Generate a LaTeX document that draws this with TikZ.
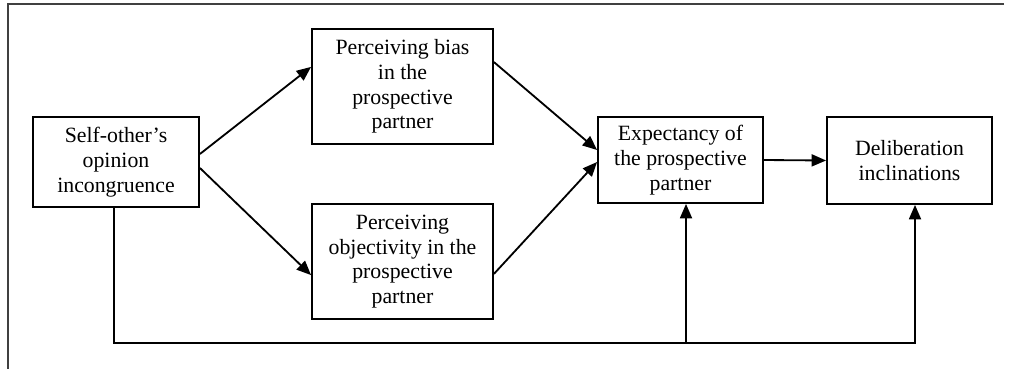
\documentclass[tikz,border=0pt]{standalone}
\usepackage{fontspec}
\setmainfont{Liberation Serif}
\usetikzlibrary{arrows.meta}
\begin{document}
\begin{tikzpicture}[x=.025cm,y=-.025cm,line width=1.3pt,
  box/.style={draw,inner sep=0pt,align=center,font=\fontsize{15.5}{17.6}\selectfont},
  arr/.style={-{Triangle[length=.36cm,width=.3cm]}},
  frame/.style={draw=black!75,line width=1pt}]
\useasboundingbox (0,0) rectangle (1010,369);
\draw[frame] (1004,4) -- (8,4) -- (8,369);
% boxes
\node[box,minimum width=4.15cm,minimum height=2.25cm] (self) at (116,162) {Self-other's\\opinion\\incongruence};
\node[box,minimum width=4.525cm,minimum height=2.875cm] (bias) at (402.5,86.5) {Perceiving bias\\in the\\prospective\\partner};
\node[box,minimum width=4.525cm,minimum height=2.875cm] (objy) at (402.5,261.5) {Perceiving\\objectivity in the\\prospective\\partner};
\node[box,minimum width=4.125cm,minimum height=2.15cm] (expy) at (680.5,160) {Expectancy of\\the prospective\\partner};
\node[box,minimum width=4.125cm,minimum height=2.175cm] (delib) at (909.5,160.5) {Deliberation\\inclinations};
% paths
\draw[arr] ([yshift=.2cm]self.east) -- ([yshift=.49cm]bias.west);
\draw[arr] ([yshift=-.15cm]self.east) -- ([yshift=-.34cm]objy.west);
\draw[arr] ([yshift=.61cm]bias.east) -- ([yshift=.25cm]expy.west);
\draw[arr] ([yshift=-.31cm]objy.east) -- ([yshift=-.05cm]expy.west);
\draw[arr] (expy.east) -- (delib.west);
\coordinate (lowM) at (686,343);
\coordinate (lowR) at (915,343);
\draw[arr] ([xshift=-.05cm]self.south) |- (lowR) -- (lowR |- delib.south);
\draw[arr] (lowM) -- (lowM |- expy.south);
\end{tikzpicture}
\end{document}
